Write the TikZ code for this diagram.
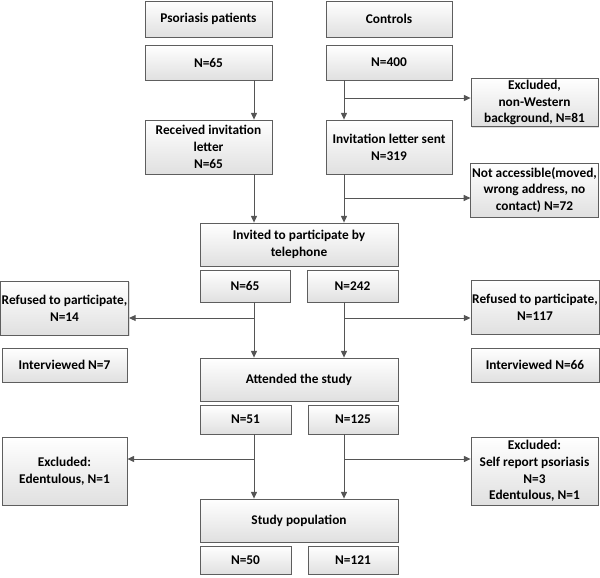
\documentclass[tikz,border=0pt]{standalone}
\usepackage{fontspec}
\setmainfont{Carlito}
\usepackage{tikz}
\usetikzlibrary{arrows,arrows.meta,shapes,shadows}
\definecolor{boxline}{HTML}{5E5E5E}
\definecolor{boxfill}{HTML}{E0E0E0}
\definecolor{flowline}{HTML}{555555}
\tikzstyle{stage}=[draw=boxline,line width=0.6pt,top color=white,bottom color=boxfill,
                drop shadow={opacity=0.25,shadow xshift=0.8pt,shadow yshift=-0.8pt},
                align=center,inner sep=1pt,font=\fontsize{10}{12.6}\selectfont\bfseries]
\tikzstyle{flow}=[-{Triangle[length=5pt,width=4.5pt]},draw=flowline,line width=0.7pt]
% box from its corners in pixels: name, x1, y1, x2, y2, text
\newcommand{\stagebox}[6]{\node[stage,minimum width={(#4-#2)*0.75pt},minimum height={(#5-#3)*0.75pt}]
  (#1) at ({(#2+#4)/2},{(#3+#5)/2}) {#6};}

\begin{document}
\begin{tikzpicture}[x=0.75pt,y=-0.75pt]
  \useasboundingbox (0,0) rectangle (600,578);

  % top: the two groups
  \stagebox{pso}{145}{1}{272}{37}{Psoriasis patients}
  \stagebox{con}{326}{1}{452}{37}{Controls}
  \stagebox{psoN}{145}{45}{272}{80}{N=65}
  \stagebox{conN}{326}{45}{452}{80}{N=400}
  \stagebox{exwest}{471}{79}{598}{126}{Excluded,\\non-Western\\background, N=81}
  \stagebox{recv}{145}{120}{272}{174}{Received invitation\\letter\\N=65}
  \stagebox{sent}{326}{120}{452}{174}{Invitation letter sent\\N=319}
  \stagebox{noacc}{471}{163}{598}{217}{Not accessible(moved,\\wrong address, no\\contact) N=72}

  % telephone
  \stagebox{inv}{200}{223}{398}{266}{Invited to participate by\\telephone}
  \stagebox{invP}{200}{270}{290}{302}{N=65}
  \stagebox{invC}{307}{270}{398}{302}{N=242}
  \stagebox{refP}{2}{281}{127}{335}{Refused to participate,\\N=14}
  \stagebox{refC}{471}{280}{599}{334}{Refused to participate,\\N=117}
  \stagebox{intP}{2}{348}{127}{382}{Interviewed N=7}
  \stagebox{intC}{471}{348}{599}{382}{Interviewed N=66}

  % attended
  \stagebox{att}{200}{358}{398}{401}{Attended the study}
  \stagebox{attP}{200}{405}{291}{434}{N=51}
  \stagebox{attC}{308}{405}{398}{434}{N=125}
  \stagebox{exP}{2}{437}{127}{505}{Excluded:\\Edentulous, N=1}
  \stagebox{exC}{471}{437}{598}{505}{Excluded:\\Self report psoriasis\\N=3\\Edentulous, N=1}

  % final
  \stagebox{pop}{200}{499}{398}{542}{Study population}
  \stagebox{popP}{200}{546}{291}{574}{N=50}
  \stagebox{popC}{308}{546}{398}{574}{N=121}

  % connector columns and branch rows
  \coordinate (colP) at (254,0);
  \coordinate (colC) at (344,0);
  \coordinate (rowA) at (0,98);
  \coordinate (rowB) at (0,198);
  \coordinate (rowC) at (0,318);
  \coordinate (rowD) at (0,459);

  \draw[flow] (psoN.south -| colP) -- (recv.north -| colP);
  \draw[flow] (conN.south -| colC) -- (sent.north -| colC);
  \draw[flow] (colC |- rowA) -- (exwest.west |- rowA);
  \draw[flow] (recv.south -| colP) -- (inv.north -| colP);
  \draw[flow] (sent.south -| colC) -- (inv.north -| colC);
  \draw[flow] (colC |- rowB) -- (noacc.west |- rowB);

  \draw[flow] (invP.south -| colP) -- (att.north -| colP);
  \draw[flow] (invC.south -| colC) -- (att.north -| colC);
  \draw[flow] (colP |- rowC) -- (refP.east |- rowC);
  \draw[flow] (colC |- rowC) -- (refC.west |- rowC);

  \draw[flow] (attP.south -| colP) -- (pop.north -| colP);
  \draw[flow] (attC.south -| colC) -- (pop.north -| colC);
  \draw[flow] (colP |- rowD) -- (exP.east |- rowD);
  \draw[flow] (colC |- rowD) -- (exC.west |- rowD);
\end{tikzpicture}
\end{document}
